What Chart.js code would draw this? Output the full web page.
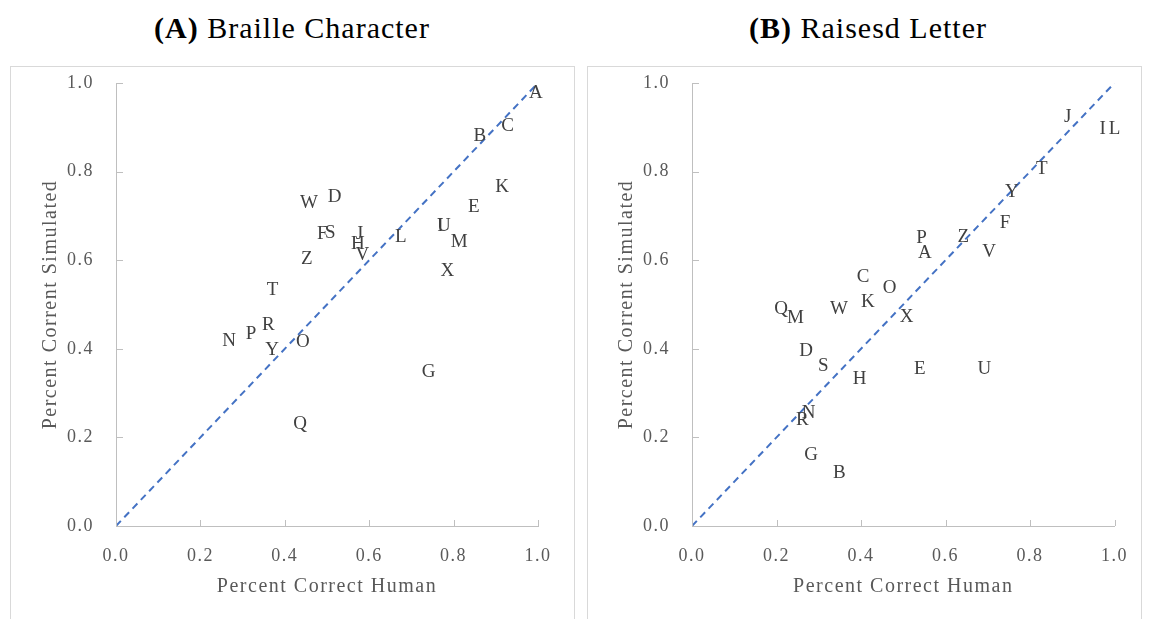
<!DOCTYPE html>
<html>
<head>
<meta charset="utf-8">
<script src="https://cdn.jsdelivr.net/npm/chart.js@4.4.0/dist/chart.umd.min.js"></script>
<style>
  body { margin: 0; background: #fff; width: 1151px; height: 619px; overflow: hidden; position: relative; }
  .panel { position: absolute; top: 66px; height: 560px; border: 1px solid #d9d9d9; box-sizing: border-box; }
  .ttl { position: absolute; top: 10px; height: 36px; line-height: 36px; font-family: 'Liberation Serif', serif;
         font-size: 30px; letter-spacing: 1px; color: #000; text-align: center; white-space: nowrap; }
  canvas { position: absolute; top: 66px; }
</style>
</head>
<body>
<div class="panel" style="left:10px;width:565px"></div>
<div class="panel" style="left:587px;width:555px"></div>
<div class="ttl" style="left:92px;width:400px"><b>(A)</b> Braille Character</div>
<div class="ttl" style="left:668px;width:400px"><b>(B)</b> Raisesd Letter</div>
<canvas id="brailleChart" width="565" height="553" style="left:10px"></canvas>
<canvas id="raisedChart" width="555" height="553" style="left:587px"></canvas>
<script>
const letters = ['A','B','C','D','E','F','G','H','I','J','K','L','M','N','O','P','Q','R','S','T','U','V','W','X','Y','Z'];

// (A) Braille character: percent correct human (x) vs simulated (y)
const brailleHuman = [0.995, 0.862, 0.928, 0.518, 0.848, 0.489, 0.741, 0.573, 0.769, 0.577, 0.915, 0.675, 0.813,
                      0.268, 0.443, 0.320, 0.436, 0.361, 0.508, 0.371, 0.777, 0.584, 0.457, 0.785, 0.370, 0.452];
const brailleSim   = [0.977, 0.880, 0.903, 0.742, 0.721, 0.659, 0.347, 0.637, 0.678, 0.659, 0.766, 0.653, 0.642,
                      0.418, 0.416, 0.433, 0.230, 0.454, 0.661, 0.533, 0.678, 0.611, 0.730, 0.576, 0.397, 0.602];

// (B) Raised letter
const raisedHuman = [0.551, 0.349, 0.405, 0.270, 0.539, 0.741, 0.282, 0.397, 0.972, 0.889, 0.416, 1.000, 0.245,
                     0.276, 0.468, 0.543, 0.211, 0.261, 0.311, 0.828, 0.692, 0.703, 0.348, 0.508, 0.757, 0.642];
const raisedSim   = [0.616, 0.120, 0.563, 0.396, 0.354, 0.683, 0.160, 0.331, 0.895, 0.924, 0.506, 0.895, 0.469,
                     0.256, 0.537, 0.649, 0.490, 0.239, 0.361, 0.805, 0.354, 0.619, 0.490, 0.472, 0.755, 0.653];

const diagX = [0, 1];
const diagY = [0, 1];
const tickVals = [0, 0.2, 0.4, 0.6, 0.8, 1.0];

Chart.defaults.font.family = "'Liberation Serif', serif";
Chart.defaults.color = '#595959';

const spacing = {
  id: 'spacing',
  beforeUpdate(chart) { chart.ctx.letterSpacing = '1.5px'; },
  beforeDraw(chart) { chart.ctx.letterSpacing = '1.5px'; }
};

// excel style ticks pointing into the plot
const innerTicks = {
  id: 'innerTicks',
  afterDraw(chart) {
    const ctx = chart.ctx;
    const xs = chart.scales.x, ys = chart.scales.y;
    ctx.save();
    ctx.strokeStyle = '#bfbfbf';
    ctx.lineWidth = 1;
    ctx.beginPath();
    xs.ticks.forEach((t, i) => {
      const px = Math.round(xs.getPixelForTick(i)) + 0.5;
      ctx.moveTo(px, ys.bottom);
      ctx.lineTo(px, ys.bottom - 6);
    });
    ys.ticks.forEach((t, i) => {
      const py = Math.round(ys.getPixelForTick(i)) + 0.5;
      ctx.moveTo(xs.left, py);
      ctx.lineTo(xs.left + 7, py);
    });
    ctx.stroke();
    ctx.restore();
  }
};

const letterLabels = {
  id: 'letterLabels',
  afterDatasetsDraw(chart) {
    const ctx = chart.ctx;
    chart.data.datasets.forEach((ds, di) => {
      if (!ds.letters) return;
      const meta = chart.getDatasetMeta(di);
      ctx.save();
      ctx.letterSpacing = '0px';
      ctx.font = "19px 'Liberation Serif', serif";
      ctx.fillStyle = '#404040';
      ctx.textAlign = 'center';
      ctx.textBaseline = 'middle';
      meta.data.forEach((pt, i) => {
        ctx.fillText(ds.letters[i], pt.x, pt.y);
      });
      ctx.restore();
    });
  }
};

function makeChart(id, human, sim, padLeft, padRight) {
  return new Chart(id, {
    type: 'scatter',
    data: {
      datasets: [{
        data: human.map((h, i) => ({x: h, y: sim[i]})),
        letters: letters,
        pointRadius: 0,
        pointHoverRadius: 0
      }, {
        data: diagX.map((v, i) => ({x: v, y: diagY[i]})),
        showLine: true,
        borderColor: '#4472c4',
        borderWidth: 2,
        borderDash: [7, 5],
        pointRadius: 0
      }]
    },
    options: {
      responsive: false,
      animation: false,
      devicePixelRatio: 1,
      layout: { padding: { left: padLeft, right: padRight, top: 17, bottom: 16 } },
      plugins: { legend: { display: false }, tooltip: { enabled: false } },
      scales: {
        x: {
          min: 0, max: 1,
          afterBuildTicks: (s) => { s.ticks = tickVals.map(v => ({value: v})); },
          afterFit: (s) => { s.height = 77; s.paddingLeft = 0; s.paddingRight = 0; },
          grid: { drawOnChartArea: false, drawTicks: false },
          border: { color: '#bfbfbf', width: 1 },
          ticks: { padding: 19, font: { size: 18 }, color: '#595959', callback: (v) => v.toFixed(1) },
          title: { display: true, text: 'Percent Correct Human', font: { size: 20 }, color: '#595959' }
        },
        y: {
          min: 0, max: 1,
          afterBuildTicks: (s) => { s.ticks = tickVals.map(v => ({value: v})); },
          afterFit: (s) => { s.width = 81; s.paddingTop = 0; s.paddingBottom = 0; },
          grid: { drawOnChartArea: false, drawTicks: false },
          border: { color: '#bfbfbf', width: 1 },
          ticks: { padding: 22, font: { size: 18 }, color: '#595959', callback: (v) => v.toFixed(1) },
          title: { display: true, text: 'Percent Corrent Simulated', font: { size: 20 }, color: '#595959' }
        }
      }
    },
    plugins: [spacing, innerTicks, letterLabels]
  });
}

makeChart('brailleChart', brailleHuman, brailleSim, 25, 37);
makeChart('raisedChart', raisedHuman, raisedSim, 24, 27.5);
</script>
</body>
</html>
